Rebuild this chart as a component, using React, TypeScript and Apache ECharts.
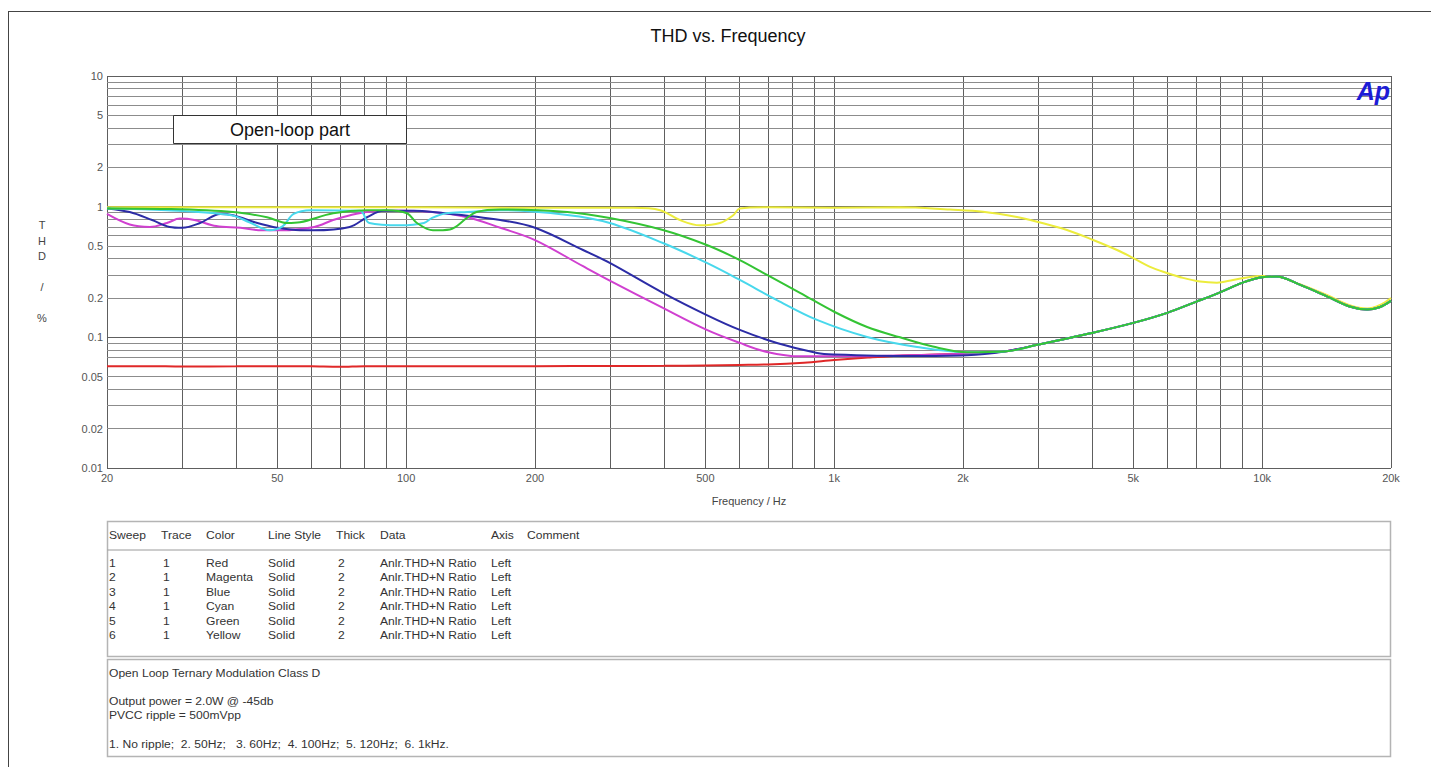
import React, { useEffect, useRef } from "react";
import * as echarts from "echarts";

// ---------- data ----------
const xGridFreqs = [20, 30, 40, 50, 60, 70, 80, 90, 100, 200, 300, 400, 500, 600, 700, 800, 900, 1000, 2000, 3000, 4000, 5000, 6000, 7000, 8000, 9000, 10000, 20000];
const xTickLabels: Record<number, string> = { 20: "20", 50: "50", 100: "100", 200: "200", 500: "500", 1000: "1k", 2000: "2k", 5000: "5k", 10000: "10k", 20000: "20k" };
const yGridValues = [0.01, 0.02, 0.03, 0.04, 0.05, 0.06, 0.07, 0.08, 0.09, 0.1, 0.2, 0.3, 0.4, 0.5, 0.6, 0.7, 0.8, 0.9, 1, 2, 3, 4, 5, 6, 7, 8, 9, 10];
const yTickLabels: Record<string, string> = { "0.01": "0.01", "0.02": "0.02", "0.05": "0.05", "0.1": "0.1", "0.2": "0.2", "0.5": "0.5", "1": "1", "2": "2", "5": "5", "10": "10" };

// common high-frequency tail for sweeps 1-5
const commonTail: [number, number][] = [
  [2500, 0.078], [3000, 0.088], [4000, 0.108], [5000, 0.129], [6000, 0.154], [7000, 0.187], [8000, 0.222],
  [9000, 0.262], [10000, 0.288], [10800, 0.292], [12200, 0.254], [14200, 0.205], [16000, 0.172], [17600, 0.163], [18800, 0.17], [20000, 0.19],
];

const redPts: [number, number][] = [
  [20, 0.06], [25, 0.0602], [30, 0.0598], [40, 0.06], [50, 0.0602], [60, 0.06], [70, 0.0595], [80, 0.0602], [100, 0.06],
  [150, 0.06], [200, 0.0602], [300, 0.0603], [400, 0.0605], [500, 0.061], [600, 0.0615], [700, 0.062], [850, 0.064],
  [1000, 0.067], [1200, 0.07], [1500, 0.073], [2000, 0.075],
];
const magentaPts: [number, number][] = [
  [20, 0.88], [22.6, 0.73], [25.2, 0.70], [27.6, 0.75], [29.6, 0.81], [32, 0.79], [36, 0.71], [41, 0.69], [46, 0.66],
  [51, 0.66], [61, 0.70], [67.5, 0.79], [74, 0.86], [81, 0.91], [97, 0.93], [115, 0.91], [139, 0.83], [166, 0.69],
  [200, 0.555], [259, 0.35], [299, 0.272], [398, 0.168], [504, 0.114], [602, 0.0906], [697, 0.0773], [832, 0.0715],
  [1000, 0.0715], [1500, 0.073], [2000, 0.075],
];
const bluePts: [number, number][] = [
  [20, 0.97], [22.6, 0.91], [25.5, 0.79], [28, 0.70], [30, 0.69], [33, 0.75], [36.8, 0.88], [39.4, 0.86], [44.9, 0.75],
  [50, 0.69], [56.5, 0.66], [60.6, 0.66], [73.8, 0.70], [81, 0.83], [88.5, 0.93], [104, 0.93], [115.5, 0.91],
  [166, 0.79], [200, 0.69], [259, 0.466], [299, 0.371], [398, 0.219], [504, 0.148], [602, 0.114], [735, 0.0906],
  [912, 0.076], [1000, 0.074], [1500, 0.072], [2043, 0.073],
];
const cyanPts: [number, number][] = [
  [20, 0.97], [27.6, 0.94], [39, 0.86], [43, 0.76], [48, 0.66], [51.5, 0.71], [54.6, 0.88], [60, 0.94], [78, 0.93],
  [82, 0.75], [97, 0.72], [110, 0.75], [115, 0.82], [124, 0.89], [139, 0.91], [166, 0.94], [238, 0.864], [299, 0.75],
  [398, 0.527], [504, 0.371], [602, 0.275], [735, 0.193], [912, 0.136], [1194, 0.1007], [1562, 0.0845], [2043, 0.077],
];
const greenPts: [number, number][] = [
  [20, 0.97], [27.6, 0.96], [39.4, 0.91], [47.3, 0.83], [52.7, 0.75], [56.5, 0.76], [67.5, 0.89], [81, 0.94], [90, 0.94],
  [100.5, 0.89], [106, 0.75], [115.5, 0.66], [126.5, 0.67], [138.7, 0.82], [146, 0.91], [166, 0.95], [238, 0.911],
  [299, 0.819], [398, 0.663], [504, 0.509], [602, 0.39], [697, 0.30], [832, 0.219], [1000, 0.157], [1194, 0.12],
  [1425, 0.10], [1700, 0.085], [2043, 0.077],
];
const yellowPts: [number, number][] = [
  [20, 0.99], [50, 0.99], [100, 0.99], [200, 0.98], [339, 0.98], [392, 0.94], [436, 0.79], [486, 0.72], [541, 0.75],
  [581, 0.86], [602, 0.97], [697, 0.99], [1000, 0.98], [1425, 0.99], [1866, 0.95], [2228, 0.915], [2673, 0.834],
  [2993, 0.764], [3499, 0.663], [4028, 0.556], [4580, 0.466], [4990, 0.405], [5471, 0.346], [5994, 0.311], [6533, 0.285],
  [7160, 0.267], [7840, 0.262], [8550, 0.275], [9370, 0.29], [10040, 0.295], [10800, 0.292], [12200, 0.256],
  [14200, 0.21], [16000, 0.176], [17600, 0.166], [18800, 0.176], [20000, 0.2],
];

const sweepNames = ["Red", "Magenta", "Blue", "Cyan", "Green", "Yellow"];
const sweepColors = ["#e02828", "#d040d0", "#2c2ca6", "#48d8ec", "#34c434", "#ecec3c"];
const tableHeaders = ["Sweep", "Trace", "Color", "Line Style", "Thick", "Data", "Axis", "Comment"];
const noteLines = [
  "Open Loop Ternary Modulation Class D",
  "",
  "Output power = 2.0W @ -45db",
  "PVCC ripple = 500mVpp",
  "",
  "1. No ripple;  2. 50Hz;   3. 60Hz;  4. 100Hz;  5. 120Hz;  6. 1kHz.",
];

const FONT = "'Liberation Sans', Arial, sans-serif";

export default function App() {
  const ref = useRef<HTMLDivElement>(null);
  useEffect(() => {
    if (!ref.current) return;
    const chart = echarts.init(ref.current, undefined, { renderer: "svg" });

    const gridLeft = 107, gridTop = 76, gridW = 1284, gridH = 392;

    const xLines = xGridFreqs.map((f) => ({
      xAxis: f,
      lineStyle: { color: "#5e5e5e", width: 1, type: "solid" as const },
      label: { show: !!xTickLabels[f], formatter: xTickLabels[f] || "", position: "start" as const, distance: 4, color: "#555", fontSize: 11, fontFamily: FONT },
    }));
    const yLines = yGridValues.map((v) => {
      const key = String(v);
      const major = [0.01, 0.1, 1, 10].includes(v);
      return {
        yAxis: v,
        lineStyle: { color: major ? "#5e5e5e" : "#8c8c8c", width: 1, type: "solid" as const },
        label: { show: !!yTickLabels[key], formatter: yTickLabels[key] || "", position: "start" as const, distance: 4, color: "#555", fontSize: 11, fontFamily: FONT },
      };
    });

    const withTail = (pts: [number, number][]) => pts.concat(commonTail);
    const seriesData = [withTail(redPts), withTail(magentaPts), withTail(bluePts), withTail(cyanPts), withTail(greenPts), yellowPts];
    const zOrder = [3, 4, 5, 6, 7, 2];

    const lineSeries = seriesData.map((d, i) => ({
      name: sweepNames[i],
      type: "line" as const,
      data: d,
      smooth: 0.35,
      showSymbol: false,
      symbol: "none",
      z: zOrder[i],
      lineStyle: { color: sweepColors[i], width: 2 },
      itemStyle: { color: sweepColors[i] },
      silent: true,
    }));

    // table texts
    const colX = [109, 161, 206, 268, 336, 380, 491, 527];
    const rowY = [563, 577.5, 592, 606.5, 621, 635.5];
    const SX = 1.1;
    const texts: any[] = [];
    tableHeaders.forEach((h, i) => {
      texts.push({ type: "text", x: colX[i], y: 535, scaleX: SX, style: { text: h, fill: "#333", font: `11px ${FONT}`, textVerticalAlign: "middle" } });
    });
    sweepNames.forEach((n, r) => {
      const cells = [String(r + 1), "1", n, "Solid", "2", "Anlr.THD+N Ratio", "Left"];
      const xs = [109, 163, 206, 268, 338, 380, 491];
      cells.forEach((c, i) => {
        texts.push({ type: "text", x: xs[i], y: rowY[r], scaleX: SX, style: { text: c, fill: "#333", font: `11px ${FONT}`, textVerticalAlign: "middle" } });
      });
    });
    const noteY = [673, 687, 701, 715, 729.5, 744];
    noteLines.forEach((t, i) => {
      if (t) texts.push({ type: "text", x: 109, y: noteY[i], scaleX: SX, style: { text: t, fill: "#333", font: `11px ${FONT}`, textVerticalAlign: "middle" } });
    });

    chart.setOption({
      animation: false,
      backgroundColor: "#fff",
      title: {
        text: "THD vs. Frequency",
        left: 723,
        top: 22,
        textAlign: "center",
        textStyle: { fontFamily: FONT, fontSize: 18, fontWeight: "normal", color: "#111" },
      },
      grid: { left: gridLeft, top: gridTop, width: gridW, height: gridH, containLabel: false },
      xAxis: {
        type: "log",
        logBase: 10,
        min: 20,
        max: 20000,
        name: "Frequency / Hz",
        nameLocation: "middle",
        nameGap: 27,
        nameTextStyle: { fontFamily: FONT, fontSize: 11, color: "#444" },
        axisLine: { show: false },
        axisTick: { show: false },
        axisLabel: { show: false },
        splitLine: { show: false },
      },
      yAxis: {
        type: "log",
        logBase: 10,
        min: 0.01,
        max: 10,
        axisLine: { show: false },
        axisTick: { show: false },
        axisLabel: { show: false },
        splitLine: { show: false },
      },
      series: [
        {
          name: "grid",
          type: "line",
          data: [[20, 1]],
          symbol: "none",
          showSymbol: false,
          lineStyle: { width: 0, opacity: 0 },
          z: 1,
          silent: true,
          markLine: {
            silent: true,
            z: 1,
            symbol: ["none", "none"],
            animation: false,
            data: [...xLines, ...yLines],
          },
        },
        ...lineSeries,
      ],
      graphic: [
        // outer frame
        { type: "line", shape: { x1: 8, y1: 11.5, x2: 1431, y2: 11.5 }, style: { stroke: "#444", lineWidth: 1 }, silent: true },
        { type: "line", shape: { x1: 8.5, y1: 11, x2: 8.5, y2: 767 }, style: { stroke: "#444", lineWidth: 1 }, silent: true },
        // y axis name
        {
          type: "text", x: 42, y: 271.5,
          style: { text: "T\nH\nD\n\n/\n\n%", fill: "#444", font: `11px ${FONT}`, textAlign: "center", textVerticalAlign: "middle", lineHeight: 15.5 },
        },
        // Ap logo
        {
          type: "text", x: 1390, y: 91, z: 20,
          style: { text: "Ap", fill: "#1c1cd6", font: `italic bold 25px ${FONT}`, textAlign: "right", textVerticalAlign: "middle" },
        },
        // Open-loop part box
        { type: "rect", shape: { x: 173.5, y: 115.5, width: 233, height: 28 }, style: { fill: "#fff", stroke: "#333", lineWidth: 1 }, z: 20 },
        { type: "text", x: 290, y: 129.5, z: 21, style: { text: "Open-loop part", fill: "#111", font: `18px ${FONT}`, textAlign: "center", textVerticalAlign: "middle" } },
        // legend table boxes
        { type: "rect", shape: { x: 107.5, y: 521.5, width: 1283, height: 135 }, style: { fill: "none", stroke: "#b4b4b4", lineWidth: 1.5 } },
        { type: "line", shape: { x1: 107.5, y1: 550, x2: 1390.5, y2: 550 }, style: { stroke: "#9a9a9a", lineWidth: 1 } },
        { type: "rect", shape: { x: 107.5, y: 659.5, width: 1283, height: 97 }, style: { fill: "none", stroke: "#b4b4b4", lineWidth: 1.5 } },
        ...texts,
      ],
    });
    return () => chart.dispose();
  }, []);
  return <div ref={ref} style={{ position: "absolute", left: 0, top: 0, width: 1431, height: 767 }} />;
}
